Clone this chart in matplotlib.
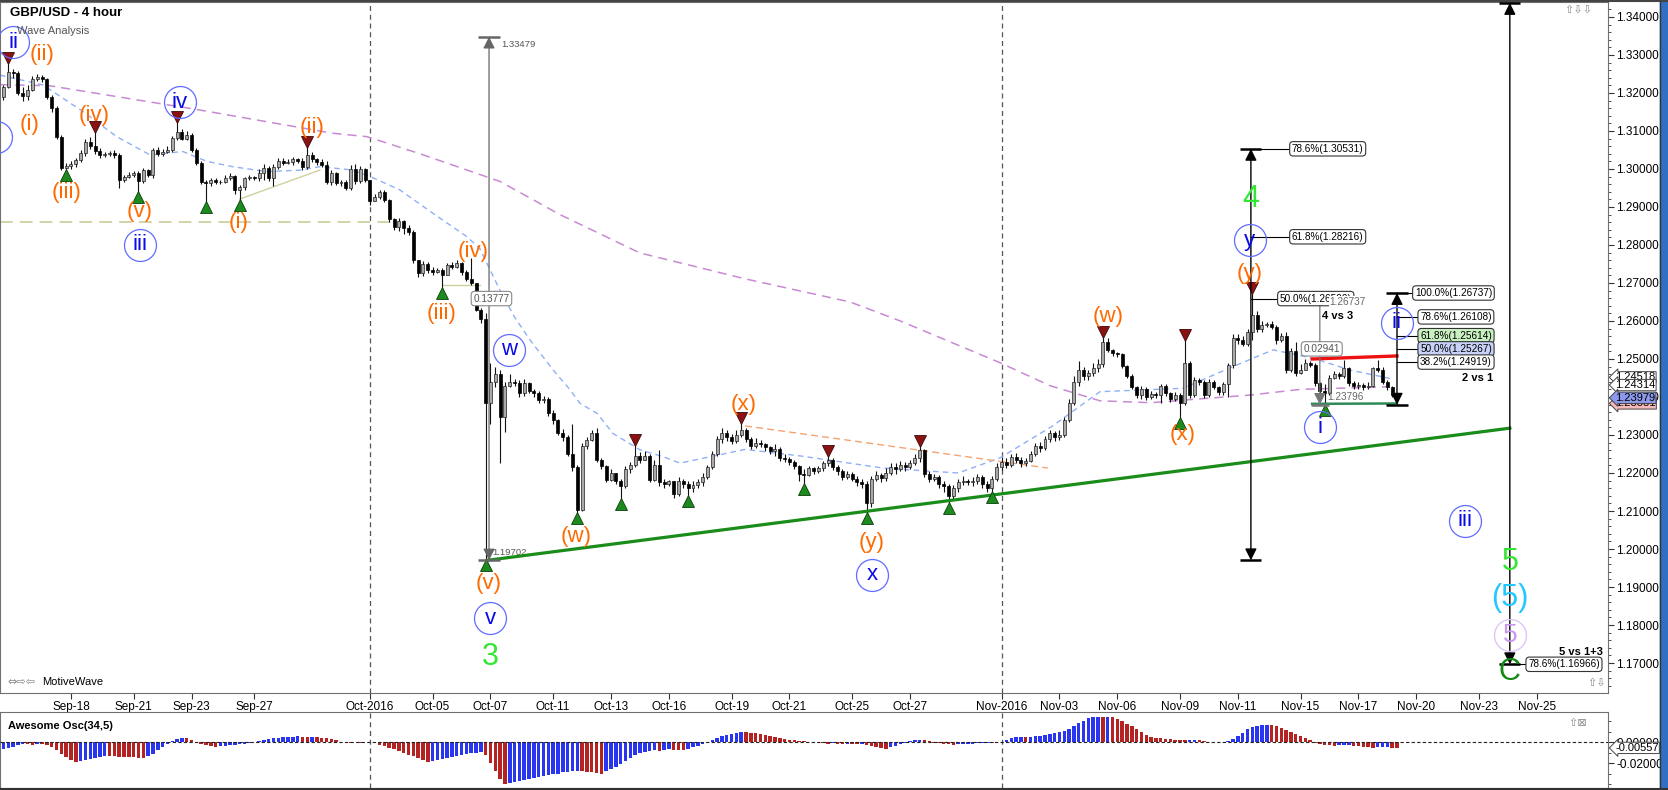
import numpy as np
import matplotlib.pyplot as plt
import matplotlib.transforms as mtransforms
from matplotlib.ticker import FixedLocator, MultipleLocator
from matplotlib.lines import Line2D
from matplotlib.patches import Rectangle

plt.rcParams['font.family'] = ['Liberation Sans', 'DejaVu Sans']

# ----------------------------------------------------------------------------
# GBP/USD 4 hour candles (bar 0 = first bar of Sep-18)
# ----------------------------------------------------------------------------
first_bar = -14
first_open = 1.3190

close = [
    1.3215, 1.3256, 1.3252, 1.3199, 1.3192, 1.3208, 1.3238, 1.3242, 1.3236, 1.3190,
    1.3160, 1.3085, 1.3002, 1.3007, 1.3012, 1.3023, 1.3041, 1.3072, 1.3060, 1.3048,
    1.3036, 1.3040, 1.3041, 1.3038, 1.2970, 1.2980, 1.2985, 1.2990, 1.2968, 1.2997,
    1.2985, 1.3050, 1.3040, 1.3046, 1.3050, 1.3081, 1.3097, 1.3080, 1.3090, 1.3050,
    1.3015, 1.2967, 1.2962, 1.2970, 1.2965, 1.2967, 1.2977, 1.2981, 1.2945, 1.2952,
    1.2975, 1.2978, 1.2975, 1.2990, 1.3003, 1.2975, 1.3005, 1.3022, 1.3017, 1.3018,
    1.3025, 1.3020, 1.3005, 1.3037, 1.3025, 1.3018, 1.3010, 1.2965, 1.2990, 1.2962,
    1.2967, 1.2950, 1.3000, 1.2968, 1.3000, 1.2970, 1.2915, 1.2925, 1.2940, 1.2918,
    1.2868, 1.2848, 1.2862, 1.2845, 1.2835, 1.2760, 1.2725, 1.2750, 1.2735, 1.2730,
    1.2735, 1.2722, 1.2748, 1.2743, 1.2752, 1.2728, 1.2710, 1.2700, 1.2630, 1.2605,
    1.2385, 1.2440, 1.2460, 1.2348, 1.2428, 1.2440, 1.2437, 1.2410, 1.2438, 1.2415,
    1.2410, 1.2393, 1.2395, 1.2357, 1.2340, 1.2305, 1.2295, 1.2250, 1.2215, 1.2103,
    1.2270, 1.2287, 1.2305, 1.2235, 1.2218, 1.2182, 1.2200, 1.2180, 1.2165, 1.2210,
    1.2220, 1.2245, 1.2235, 1.2245, 1.2182, 1.2220, 1.2175, 1.2172, 1.2178, 1.2145,
    1.2180, 1.2170, 1.2160, 1.2168, 1.2175, 1.2190, 1.2215, 1.2250, 1.2290, 1.2305,
    1.2295, 1.2285, 1.2300, 1.2312, 1.2290, 1.2270, 1.2280, 1.2275, 1.2268, 1.2258,
    1.2262, 1.2240, 1.2236, 1.2230, 1.2218, 1.2198, 1.2195, 1.2212, 1.2205, 1.2212,
    1.2225, 1.2235, 1.2215, 1.2205, 1.2190, 1.2198, 1.2185, 1.2175, 1.2170, 1.2120,
    1.2185, 1.2195, 1.2188, 1.2200, 1.2215, 1.2210, 1.2222, 1.2215, 1.2225, 1.2240,
    1.2260, 1.2198, 1.2185, 1.2190, 1.2170, 1.2165, 1.2140, 1.2160, 1.2175, 1.2180,
    1.2175, 1.2178, 1.2190, 1.2170, 1.2160, 1.2185, 1.2215, 1.2230, 1.2220, 1.2242,
    1.2235, 1.2225, 1.2232, 1.2250, 1.2270, 1.2265, 1.2290, 1.2305, 1.2295, 1.2300,
    1.2340, 1.2385, 1.2440, 1.2470, 1.2455, 1.2462, 1.2475, 1.2488, 1.2546, 1.2524,
    1.2515, 1.2512, 1.2482, 1.2455, 1.2425, 1.2405, 1.2420, 1.2400, 1.2408, 1.2405,
    1.2428, 1.2410, 1.2395, 1.2405, 1.2385, 1.2490, 1.2405, 1.2445, 1.2440, 1.2405,
    1.2440, 1.2425, 1.2412, 1.2435, 1.2483, 1.2555, 1.2550, 1.2540, 1.2570, 1.2615,
    1.2580, 1.2590, 1.2592, 1.2585, 1.2550, 1.2560, 1.2470, 1.2520, 1.2462, 1.2470,
    1.2490, 1.2485, 1.2436, 1.2415, 1.2410, 1.2450, 1.2460, 1.2455, 1.2475, 1.2436,
    1.2428, 1.2432, 1.2425, 1.2430, 1.2475, 1.2472, 1.2440, 1.2425, 1.2405, 1.2398,
]

high = [
    1.3221, 1.3278, 1.3262, 1.3258, 1.3215, 1.3222, 1.3245, 1.3249, 1.3248, 1.3240,
    1.3195, 1.3165, 1.3090, 1.3015, 1.3020, 1.3030, 1.3050, 1.3080, 1.3083, 1.3098,
    1.3055, 1.3045, 1.3048, 1.3050, 1.3043, 1.2985, 1.2992, 1.2996, 1.2995, 1.3003,
    1.3000, 1.3055, 1.3058, 1.3052, 1.3060, 1.3088, 1.3125, 1.3105, 1.3100, 1.3095,
    1.3055, 1.3020, 1.2972, 1.2975, 1.2975, 1.2972, 1.2985, 1.2990, 1.2985, 1.2958,
    1.2980, 1.2985, 1.2982, 1.3000, 1.3012, 1.3008, 1.3012, 1.3030, 1.3028, 1.3025,
    1.3032, 1.3030, 1.3028, 1.3059, 1.3045, 1.3030, 1.3025, 1.3020, 1.2998, 1.2992,
    1.2972, 1.2970, 1.3010, 1.3012, 1.3008, 1.3002, 1.2970, 1.2935, 1.2945, 1.2945,
    1.2920, 1.2872, 1.2870, 1.2866, 1.2852, 1.2840, 1.2760, 1.2758, 1.2755, 1.2742,
    1.2740, 1.2740, 1.2752, 1.2755, 1.2760, 1.2755, 1.2735, 1.2765, 1.2700, 1.2635,
    1.2620, 1.2490, 1.2480, 1.2470, 1.2440, 1.2460, 1.2448, 1.2445, 1.2448, 1.2440,
    1.2420, 1.2415, 1.2402, 1.2400, 1.2365, 1.2342, 1.2315, 1.2300, 1.2330, 1.2220,
    1.2280, 1.2295, 1.2312, 1.2318, 1.2240, 1.2220, 1.2210, 1.2200, 1.2185, 1.2218,
    1.2230, 1.2275, 1.2255, 1.2258, 1.2250, 1.2235, 1.2260, 1.2185, 1.2182, 1.2180,
    1.2190, 1.2185, 1.2178, 1.2180, 1.2185, 1.2200, 1.2222, 1.2258, 1.2298, 1.2318,
    1.2312, 1.2302, 1.2312, 1.2332, 1.2318, 1.2295, 1.2292, 1.2288, 1.2280, 1.2272,
    1.2275, 1.2268, 1.2250, 1.2242, 1.2235, 1.2222, 1.2210, 1.2218, 1.2216, 1.2218,
    1.2232, 1.2245, 1.2240, 1.2222, 1.2210, 1.2205, 1.2202, 1.2192, 1.2185, 1.2178,
    1.2192, 1.2205, 1.2200, 1.2212, 1.2225, 1.2225, 1.2232, 1.2230, 1.2235, 1.2250,
    1.2270, 1.2262, 1.2205, 1.2198, 1.2195, 1.2178, 1.2170, 1.2168, 1.2185, 1.2192,
    1.2185, 1.2190, 1.2198, 1.2195, 1.2178, 1.2192, 1.2225, 1.2242, 1.2240, 1.2250,
    1.2252, 1.2242, 1.2240, 1.2258, 1.2278, 1.2282, 1.2298, 1.2312, 1.2310, 1.2312,
    1.2348, 1.2395, 1.2455, 1.2495, 1.2480, 1.2472, 1.2490, 1.2500, 1.2559, 1.2555,
    1.2525, 1.2518, 1.2515, 1.2485, 1.2460, 1.2430, 1.2430, 1.2425, 1.2415, 1.2412,
    1.2435, 1.2435, 1.2412, 1.2412, 1.2410, 1.2550, 1.2495, 1.2452, 1.2450, 1.2445,
    1.2448, 1.2445, 1.2430, 1.2440, 1.2490, 1.2565, 1.2565, 1.2560, 1.2580, 1.26737,
    1.2625, 1.2600, 1.2598, 1.2600, 1.2590, 1.2568, 1.2570, 1.2530, 1.2545, 1.2488,
    1.2500, 1.2495, 1.2490, 1.2440, 1.2435, 1.2458, 1.2468, 1.2465, 1.2497, 1.2480,
    1.2442, 1.2440, 1.2438, 1.2440, 1.2480, 1.2497, 1.2478, 1.2445, 1.2428, 1.2410,
]

low = [
    1.3182, 1.3212, 1.3240, 1.3195, 1.3180, 1.3182, 1.3205, 1.3232, 1.3228, 1.3185,
    1.3150, 1.3080, 1.2997, 1.2998, 1.3000, 1.3005, 1.3018, 1.3035, 1.3052, 1.3040,
    1.3030, 1.3032, 1.3035, 1.3030, 1.2950, 1.2965, 1.2975, 1.2980, 1.2940, 1.2962,
    1.2978, 1.2975, 1.3035, 1.3035, 1.3042, 1.3045, 1.3075, 1.3075, 1.3075, 1.3045,
    1.3010, 1.2960, 1.2912, 1.2955, 1.2960, 1.2960, 1.2962, 1.2972, 1.2935, 1.2919,
    1.2945, 1.2970, 1.2970, 1.2968, 1.2970, 1.2968, 1.2955, 1.3000, 1.3010, 1.3012,
    1.3010, 1.3015, 1.2998, 1.3000, 1.3018, 1.3010, 1.3005, 1.2960, 1.2958, 1.2958,
    1.2955, 1.2945, 1.2945, 1.2960, 1.2962, 1.2965, 1.2905, 1.2915, 1.2920, 1.2912,
    1.2860, 1.2840, 1.2838, 1.2830, 1.2825, 1.2752, 1.2715, 1.2718, 1.2725, 1.2722,
    1.2725, 1.2687, 1.2720, 1.2738, 1.2740, 1.2722, 1.2705, 1.2695, 1.2625, 1.2595,
    1.19702, 1.2330, 1.2425, 1.2226, 1.2309, 1.2425, 1.2430, 1.2400, 1.2402, 1.2410,
    1.2400, 1.2385, 1.2385, 1.2350, 1.2330, 1.2300, 1.2285, 1.2245, 1.2205, 1.2094,
    1.2100, 1.2262, 1.2285, 1.2228, 1.2210, 1.2175, 1.2180, 1.2170, 1.2132, 1.2160,
    1.2200, 1.2215, 1.2225, 1.2235, 1.2175, 1.2180, 1.2165, 1.2160, 1.2165, 1.2135,
    1.2140, 1.2160, 1.2140, 1.2150, 1.2160, 1.2165, 1.2185, 1.2210, 1.2245, 1.2280,
    1.2285, 1.2275, 1.2280, 1.2295, 1.2282, 1.2262, 1.2265, 1.2268, 1.2258, 1.2250,
    1.2245, 1.2232, 1.2228, 1.2222, 1.2210, 1.2180, 1.2172, 1.2192, 1.2198, 1.2200,
    1.2205, 1.2218, 1.2208, 1.2195, 1.2182, 1.2185, 1.2178, 1.2165, 1.2160, 1.2095,
    1.2110, 1.2178, 1.2175, 1.2180, 1.2195, 1.2198, 1.2205, 1.2205, 1.2210, 1.2220,
    1.2230, 1.2190, 1.2175, 1.2178, 1.2160, 1.2150, 1.2120, 1.2132, 1.2150, 1.2168,
    1.2168, 1.2165, 1.2170, 1.2160, 1.2150, 1.2150, 1.2180, 1.2208, 1.2212, 1.2215,
    1.2225, 1.2215, 1.2218, 1.2228, 1.2245, 1.2255, 1.2260, 1.2282, 1.2285, 1.2288,
    1.2295, 1.2335, 1.2380, 1.2430, 1.2445, 1.2445, 1.2455, 1.2465, 1.2480, 1.2518,
    1.2508, 1.2505, 1.2475, 1.2450, 1.2420, 1.2398, 1.2395, 1.2392, 1.2395, 1.2398,
    1.2385, 1.2402, 1.2388, 1.2390, 1.2345, 1.2380, 1.2398, 1.2400, 1.2432, 1.2398,
    1.2400, 1.2420, 1.2405, 1.2405, 1.2400, 1.2475, 1.2540, 1.2535, 1.2535, 1.2550,
    1.2570, 1.2570, 1.2585, 1.2578, 1.2540, 1.2545, 1.2462, 1.2465, 1.2455, 1.2460,
    1.2470, 1.2478, 1.2430, 1.2408, 1.23796, 1.2405, 1.2448, 1.2448, 1.2450, 1.2430,
    1.2420, 1.2422, 1.2418, 1.2420, 1.2425, 1.2465, 1.2435, 1.2418, 1.2400, 1.2390,
]

# Awesome Oscillator (34,5), in thousandths of a price unit
ao_milli = [
    -7, -6, -5, -3, -2, -2, -3, -2, -2, -3,
    -5, -8, -11, -14, -17, -19, -18, -17, -16, -15,
    -14, -13, -13, -13.5, -14, -14.3, -14.5, -14.6, -14.8, -14.9,
    -13, -11, -8, -5, -2, 1, 3, 4, 3.5, 2,
    0.5, -1.5, -3, -4, -4.5, -4, -3.5, -3, -2.5, -2,
    -1.5, -1, 0, 1, 2, 2.5, 3.5, 4, 4.5, 5,
    5.2, 5.5, 5.0, 4.6, 5.0, 4.8, 4.2, 3.5, 2.5, 1.5,
    0.5, 0, -0.5, -0.3, -0.6, -0.2, 0, -1, -2.5, -4,
    -5.5, -7, -8.5, -10, -12, -13.5, -15, -17, -19, -18,
    -17, -16, -15, -14, -13, -12, -11, -10.5, -10, -9.5,
    -12, -20, -28, -35, -40, -39, -38, -37, -36, -35,
    -34, -33, -32, -31, -30.5, -30, -29, -28.5, -28, -27.5,
    -28, -28.5, -29, -29.5, -30, -28, -26, -24, -21, -18,
    -15, -12.5, -10.5, -9.5, -8.5, -8, -8.2, -7.5, -7, -7.3,
    -7.8, -8, -7, -5, -3.5, -2, -0.5, 1.5, 3.5, 5.5,
    7, 8, 9, 9.5, 9.3, 9, 8.5, 7.5, 6.5, 5.5,
    4.5, 3.5, 2.8, 2.2, 1.6, 1.2, 0.8, 0.3, -0.5, -1,
    -1.2, -1.5, -1.2, -1.6, -1.8, -1.5, -1.9, -2.2, -2.0, -2.5,
    -3.5, -4.5, -5.5, -6.3, -5, -3.5, -2, -0.5, 0.8, 1.5,
    1.8, 1.6, 0.8, -0.5, -1.2, -1.8, -2.2, -2.5, -2.2, -2,
    -1.8, -1.6, -1.3, -1.0, -0.8, -0.9, -0.3, 0.5, 2, 4,
    5, 5.2, 5.0, 5.1, 5.3, 6, 7, 8, 9, 10,
    11, 12.5, 15, 18, 20.5, 22.5, 24, 24.3, 24.0, 24.2,
    23.8, 22, 20, 17.5, 15, 12, 9.5, 7, 5, 4,
    3.5, 3.2, 2.8, 2.4, 2.0, 1.6, 2.0, 2.3, 1.8, 1.2,
    0.5, 0.2, 0.3, 0.5, 1.0, 3, 6, 9, 12, 14,
    15.5, 16.3, 16.6, 16.2, 15, 13.5, 11.5, 9.5, 7.5, 5.5,
    3.5, 1.5, -0.5, -1.8, -2.5, -3, -3.3, -3.2, -3.0, -2.8,
    -3.5, -4, -4.5, -5, -5.3, -5.1, -4.9, -4.8, -5.3, -5.57,
]

# moving averages sampled along the chart (bar index, price)
fast_ma_bar = [-14.7, -5.8, 2.5, 9.5, 16.4, 23.2, 28.2, 33.6, 40.6, 47.5, 51.6, 57.9,
               61.4, 68.2, 75.1, 82.1, 84.8, 86.9, 89.0, 92.0, 95.2, 100.0, 103.5,
               105.6, 109.1, 112.4, 118.0, 122.8, 126.3, 139.8, 151.2, 168.4, 184.0,
               192.7, 203.6, 213.4, 230.6, 241.0, 249.3, 257.6, 265.2, 273.5]
fast_ma_val = [1.3247, 1.3221, 1.3151, 1.3085, 1.3037, 1.3046, 1.3020, 1.3006, 1.2993,
               1.2997, 1.3006, 1.2998, 1.2984, 1.2945, 1.2883, 1.2822, 1.2790, 1.2735,
               1.2680, 1.2610, 1.2550, 1.2471, 1.2419, 1.2383, 1.2357, 1.2304, 1.2261,
               1.2243, 1.2226, 1.2262, 1.2245, 1.2213, 1.2200, 1.2240, 1.2324, 1.2414,
               1.2423, 1.2480, 1.2524, 1.2502, 1.2471, 1.2449]
slow_ma_bar = [-14.7, -4.4, 26.8, 54.3, 61.4, 72.4, 89.0, 101.4, 118.0, 139.8, 161.6,
               172.0, 192.7, 203.0, 213.4, 224.0, 234.0, 244.5, 254.9, 273.5]
slow_ma_val = [1.3222, 1.3219, 1.3155, 1.3094, 1.3085, 1.3040, 1.2967, 1.2880, 1.2779,
               1.2711, 1.2650, 1.2600, 1.2490, 1.2430, 1.2390, 1.2385, 1.2395, 1.2405,
               1.2420, 1.2427]

# swing markers (bar index)
swing_low_bars = [-1, 14, 28, 35, 77, 86, 105, 114, 128, 152, 165, 182, 191, 230, 260]
swing_high_bars = [-13, 5, 22, 49, 117, 139, 157, 176, 214, 231, 245]

# date axis
date_labels = ['Sep-18', 'Sep-21', 'Sep-23', 'Sep-27', 'Oct-2016', 'Oct-05', 'Oct-07',
               'Oct-11', 'Oct-13', 'Oct-16', 'Oct-19', 'Oct-21', 'Oct-25', 'Oct-27',
               'Nov-2016', 'Nov-03', 'Nov-06', 'Nov-09', 'Nov-11', 'Nov-15', 'Nov-17',
               'Nov-20', 'Nov-23', 'Nov-25']
date_bars = [0, 13, 25, 38, 62, 75, 87, 100, 112, 124, 137, 149, 162, 174, 193, 205,
             217, 230, 242, 255, 267, 279, 292, 304]
month_bars = [62, 193]

# wave count labels: text, bar, price, style
wave_labels = [
    ('ii', -12.0, 1.3334, 'bc'), ('(ii)', -6.0, 1.3300, 'o'), ('(i)', -8.5, 1.3116, 'o'),
    ('i', -15.6, 1.3084, 'bc'), ('(iv)', 4.8, 1.3142, 'o'), ('(iii)', -1.0, 1.2937, 'o'),
    ('(v)', 14.3, 1.2887, 'o'), ('iii', 14.3, 1.2800, 'bc'), ('iv', 22.6, 1.3176, 'bc'),
    ('(i)', 34.8, 1.2858, 'o'), ('(ii)', 49.9, 1.3108, 'o'), ('(iv)', 83.3, 1.2782, 'o'),
    ('(iii)', 76.9, 1.2621, 'o'), ('w', 90.8, 1.2524, 'bc'), ('(w)', 104.7, 1.2032, 'o'),
    ('(v)', 86.6, 1.1908, 'o'), ('v', 86.9, 1.1818, 'bc'), ('3', 86.9, 1.1716, 'g'),
    ('(x)', 139.4, 1.2379, 'o'), ('(y)', 166.1, 1.2016, 'o'), ('x', 166.1, 1.1932, 'bc'),
    ('(w)', 215.0, 1.2611, 'o'), ('(x)', 230.6, 1.2300, 'o'), ('4', 244.7, 1.2921, 'g'),
    ('y', 244.5, 1.2813, 'bc'), ('(y)', 244.5, 1.2726, 'o'), ('ii', 275.0, 1.2595, 'bc'),
    ('i', 259.0, 1.2321, 'bc'), ('iii', 289.1, 1.2074, 'bc'), ('5', 298.4, 1.1966, 'g'),
    ('(5)', 298.4, 1.1871, 'c'), ('5', 298.4, 1.1774, 'lc'), ('C', 298.4, 1.1676, 'dg'),
]

# wave 3 retracement levels and the ii retracement levels
w3_top, w3_bottom = 1.33479, 1.19702
w3_levels = [('78.6%', 1.30531), ('61.8%', 1.28216), ('50.0%', 1.26590)]
w1_top, w1_bottom = 1.26737, 1.23796
w2_levels = [('100.0%', 1.26737, 'white'), ('78.6%', 1.26108, 'white'),
             ('61.8%', 1.25614, '#c9f0c0'), ('50.0%', 1.25267, '#c8d2f8'),
             ('38.2%', 1.24919, 'white')]
target_level = 1.16966

# right axis price tags
tag_levels = [1.24518, 1.24314, 1.23831, 1.23979]
tag_fill = ['white', 'white', '#f6b9b9', '#8c98ec']
ao_tag = -0.00557

# ----------------------------------------------------------------------------
close = np.array(close)
high = np.array(high)
low = np.array(low)
bars = np.arange(first_bar, first_bar + len(close))
opens = np.concatenate([[first_open], close[:-1]])
ao = np.array(ao_milli) / 1000.0

fig = plt.figure(figsize=(16.68, 7.90), dpi=100)
ax = fig.add_axes([0.0, 0.1228, 0.9640, 0.8747])
osc = fig.add_axes([0.0, 0.0025, 0.9640, 0.0962])
xlim = (-14.72, 318.75)

# candles
up = close >= opens
body_lo = np.minimum(opens, close)
body_h = np.maximum(np.abs(close - opens), 0.00005)
ax.vlines(bars, low, high, color='#111111', lw=0.8, zorder=3)
ax.bar(bars[up], body_h[up], bottom=body_lo[up], width=0.62, color='#a9a9a9',
       edgecolor='#222222', lw=0.5, zorder=4)
ax.bar(bars[~up], body_h[~up], bottom=body_lo[~up], width=0.62, color='black',
       edgecolor='black', lw=0.5, zorder=4)

# moving averages
ax.plot(fast_ma_bar, fast_ma_val, color='#8fb0f6', lw=1.0, ls=(0, (4, 3)), zorder=2)
ax.plot(slow_ma_bar, slow_ma_val, color='#c88ad2', lw=1.1, ls=(0, (6, 4)), zorder=2)

# swing markers
is_low = np.isin(bars, swing_low_bars)
is_high = np.isin(bars, swing_high_bars)
ax.plot(bars[is_low], low[is_low] - 0.0013, '^', ms=8, color='#1d8a1d', mec='#0c3c0c',
        mew=0.6, zorder=6)
ax.plot(bars[is_high], high[is_high] + 0.0013, 'v', ms=8, color='#8a1212', mec='#3c0808',
        mew=0.6, zorder=6)

# trend lines
ax.plot([86.3, 298.4], [w3_bottom, 1.2318], color='#1a8c1a', lw=2.3, zorder=5)
ax.plot([-14.7, 66.2], [1.2861, 1.2861], color='#cfd0a0', lw=1.3, ls=(0, (7, 4)), zorder=2)
ax.plot([35.0, 51.6], [1.2921, 1.2997], color='#cfd0a0', lw=1.0, zorder=2)
ax.plot([77.1, 84.8], [1.2695, 1.2695], color='#cfd0a0', lw=1.0, zorder=2)
ax.plot([139.8, 202.6], [1.2324, 1.2213], color='#f5a373', lw=1.0, ls=(0, (5, 3)), zorder=2)
ax.plot([257.4, 275.0], [1.2500, 1.2508], color='#ee1111', lw=2.4, zorder=6)
ax.plot([257.4, 275.0], [1.2382, 1.2383], color='#2e8b57', lw=1.8, zorder=6)

for a in (ax, osc):
    for mb in month_bars:
        a.axvline(mb, color='#555555', lw=0.9, ls=(0, (4, 3)), zorder=1)


def measure(x, top, bottom, color, lw=1.0, half=2.2):
    ax.annotate('', xy=(x, top), xytext=(x, bottom), zorder=7,
                arrowprops=dict(arrowstyle='<|-|>,head_length=0.5,head_width=0.25',
                                color=color, lw=lw, shrinkA=0, shrinkB=0,
                                mutation_scale=14))
    ax.hlines([top, bottom], x - half, x + half, color=color, lw=1.8, zorder=7)


def box(x, y, s, fc='white', ec='#333333', tc='black', size=7.2, ha='left', z=9):
    ax.text(x, y, s, fontsize=size, color=tc, ha=ha, va='center', zorder=z,
            bbox=dict(boxstyle='round,pad=0.22,rounding_size=0.35', fc=fc, ec=ec, lw=0.8))


# wave 3 length (grey)
measure(86.7, w3_top, w3_bottom, '#666666', lw=0.9)
ax.text(89.2, 1.3328, f'{w3_top:.5f}', fontsize=6.8, color='#555555', va='center')
ax.text(87.4, 1.1990, f'{w3_bottom:.5f}', fontsize=6.8, color='#555555', va='center')
box(87.2, (w3_top + w3_bottom) / 2, f'{w3_top - w3_bottom:.5f}', ec='#888888',
    tc='#555555', ha='center')

# wave 4 vs 3
measure(244.7, w3_levels[0][1], w3_bottom, 'black')
for name, lvl in w3_levels:
    xl = 250.7 if name == '50.0%' else 253.2
    ax.plot([244.7, xl], [lvl, lvl], color='black', lw=0.8, zorder=7)
    box(xl, lvl, f'{name}({lvl:.5f})')

# wave i length (grey), drawn over the 50% box as in the original
measure(259.0, w1_top, w1_bottom, '#777777', lw=0.9, half=1.9)
ax.text(261.0, 1.2650, f'{w1_top:.5f}', fontsize=7.2, color='#666666', va='center',
        zorder=11, bbox=dict(boxstyle='square,pad=0.05', fc='white', ec='none'))
ax.text(260.5, 1.2400, f'{w1_bottom:.5f}', fontsize=7.2, color='#666666', va='center',
        zorder=11)
box(259.4, (w1_top + w1_bottom) / 2, f'{w1_top - w1_bottom:.5f}', ec='#888888',
    tc='#555555', ha='center')
ax.text(262.6, 1.2613, '4 vs 3', fontsize=8, fontweight='bold', ha='center',
        va='center', zorder=11)

# wave ii retracement
measure(275.0, w1_top, w1_bottom, 'black')
for name, lvl, fc in w2_levels:
    xl = 278.7 if name == '100.0%' else 279.8
    ax.plot([275.0, xl], [lvl, lvl], color='black', lw=0.8, zorder=7)
    box(xl, lvl, f'{name}({lvl:.5f})', fc=fc)
ax.text(291.8, 1.2450, '2 vs 1', fontsize=8, fontweight='bold', ha='center',
        va='center', zorder=10)

# wave 5 target
measure(298.4, 1.3437, target_level, 'black')
ax.plot([298.4, 302.2], [target_level, target_level], color='black', lw=0.8, zorder=7)
box(302.2, target_level, f'78.6%({target_level:.5f})')
ax.text(313.2, 1.1729, '5 vs 1+3', fontsize=8, fontweight='bold', ha='center',
        va='center', zorder=10)

# wave labels
styles = {
    'o': dict(color='#ff6a00', fontsize=16),
    'bc': dict(color='#0a0ae8', fontsize=16),
    'g': dict(color='#33e633', fontsize=22),
    'c': dict(color='#22c8ff', fontsize=22),
    'lc': dict(color='#c79af0', fontsize=19),
    'dg': dict(color='#138a13', fontsize=22),
}
for txt, xb, yp, kind in wave_labels:
    ax.text(xb, yp, txt, ha='center', va='center', zorder=9, clip_on=True, **styles[kind])
    if kind in ('bc', 'lc'):
        ec = '#5f6cff' if kind == 'bc' else '#dcc0f8'
        ax.plot(xb, yp, 'o', ms=23, mfc='none', mec=ec, mew=0.9, zorder=8)

# axes styling
ax.set_xlim(*xlim)
ax.set_ylim(1.16211, 1.34395)
ax.yaxis.tick_right()
ax.yaxis.set_major_locator(MultipleLocator(0.01))
ax.yaxis.set_minor_locator(MultipleLocator(0.002))
ax.yaxis.set_major_formatter(lambda v, p: f'{v:.5f}')
ax.tick_params(axis='y', which='major', labelsize=8.5, length=4, color='#333333', pad=2)
ax.tick_params(axis='y', which='minor', length=2, color='#333333')
ax.set_xticks(date_bars)
ax.set_xticklabels(date_labels)
ax.tick_params(axis='x', labelsize=8.5, length=4, color='#333333', pad=2)
for s in ax.spines.values():
    s.set_color('#707070')

tag_tr = mtransforms.blended_transform_factory(ax.transAxes, ax.transData)
for lvl, fc in zip(tag_levels, tag_fill):
    ax.text(1.0045, lvl, f'{lvl:.5f}', transform=tag_tr, fontsize=8, ha='left',
            va='center', zorder=12, clip_on=False,
            bbox=dict(boxstyle='larrow,pad=0.06', fc=fc, ec='#444444', lw=0.7))

# oscillator
colors = ['#2a35f0'] + ['#2a35f0' if ao[i] > ao[i - 1] else '#b42222'
                        for i in range(1, len(ao))]
osc.bar(bars, ao, width=0.72, color=colors, zorder=3)
osc.axhline(0, color='#222222', lw=0.8, ls=(0, (3, 2)), zorder=4)
osc.set_xlim(*xlim)
osc.set_ylim(-0.0438, 0.0286)
osc.set_xticks([])
osc.yaxis.tick_right()
osc.set_yticks([0.0, -0.02])
osc.set_yticklabels(['0.00000', '-0.02000'])
osc.yaxis.set_minor_locator(FixedLocator([-0.04, -0.03, -0.01, 0.01, 0.02]))
osc.tick_params(axis='y', which='major', labelsize=8.5, length=4, color='#333333', pad=2)
osc.tick_params(axis='y', which='minor', length=2, color='#333333')
for s in osc.spines.values():
    s.set_color('#707070')
osc_tr = mtransforms.blended_transform_factory(osc.transAxes, osc.transData)
osc.text(1.0045, ao_tag, f'{ao_tag:.5f}', transform=osc_tr, fontsize=8, ha='left',
         va='center', zorder=12, clip_on=False,
         bbox=dict(boxstyle='larrow,pad=0.06', fc='white', ec='#444444', lw=0.7))
osc.text(0.005, 0.82, 'Awesome Osc(34,5)', transform=osc.transAxes, fontsize=8,
         fontweight='bold', va='center')
osc.text(0.987, 0.86, '⇧⊠', transform=osc.transAxes, fontsize=8, color='#888888',
         va='center', ha='right', family='DejaVu Sans')

# chart captions and window chrome
fig.text(0.006, 0.9835, 'GBP/USD - 4 hour', fontsize=9.5, fontweight='bold', va='center')
fig.text(0.0102, 0.9608, 'Wave Analysis', fontsize=8, color='#555555', va='center')
fig.text(0.0042, 0.1367, '⇔⇨⇦', fontsize=8, color='#888888', va='center',
         family='DejaVu Sans')
fig.text(0.0252, 0.1367, 'MotiveWave', fontsize=8, va='center')
fig.text(0.9375, 0.9870, '⇧⇩⇩', fontsize=8, color='#888888', va='center',
         family='DejaVu Sans')
fig.text(0.9515, 0.1355, '⇧⇩', fontsize=8, color='#888888', va='center',
         family='DejaVu Sans')
fig.add_artist(Rectangle((1660 / 1668, 0), 8 / 1668, 1, transform=fig.transFigure,
                         color='#2f70c4', zorder=20))
fig.add_artist(Line2D([1659.5 / 1668] * 2, [0, 1], transform=fig.transFigure,
                      color='#333333', lw=1, zorder=21))
fig.add_artist(Line2D([0, 1], [0.999, 0.999], transform=fig.transFigure,
                      color='#444444', lw=1.5, zorder=21))
fig.add_artist(Line2D([0, 1], [0.001, 0.001], transform=fig.transFigure,
                      color='#333333', lw=1.5, zorder=21))

fig.savefig('out.png', dpi=100)
